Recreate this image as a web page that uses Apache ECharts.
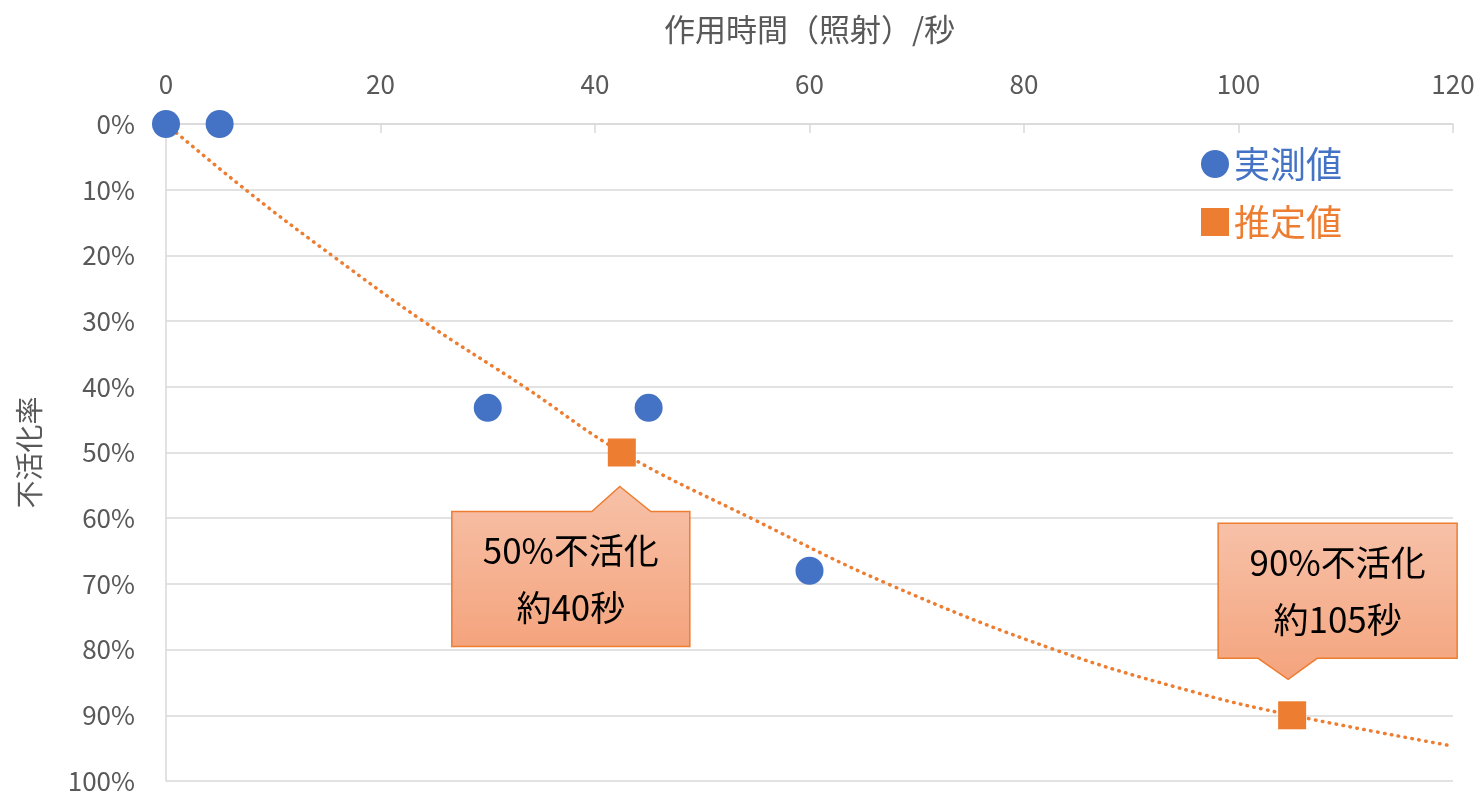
<!DOCTYPE html>
<html>
<head>
<meta charset="utf-8">
<script src="https://cdn.jsdelivr.net/npm/echarts@6/dist/echarts.min.js"></script>
<style>
  html, body { margin: 0; padding: 0; background: #fff; }
  #chart { width: 1481px; height: 792px; }
</style>
</head>
<body>
<div id="chart"></div>
<script>
'use strict';
const FONT = '"Noto Sans CJK JP", "Noto Sans", sans-serif';

// 実測値
const measuredTime = [0, 5, 30, 45, 60];
const measuredRate = [0, 0, 43.2, 43.2, 68];
// 推定値
const estTime = [42.5, 105];
const estRate = [50, 90];
// 近似曲線 (picture から読み取り)
const trendTime = [0, 7.8, 15.8, 23.8, 33.5, 42.5, 54.8, 67.3, 83, 96.4, 105, 120];
const trendRate = [0, 10.5, 20.4, 29.8, 40.1, 50, 60.2, 70, 80.1, 86.7, 90, 94.7];
// 吹き出し
const calloutText = ['50%不活化\n約40秒', '90%不活化\n約105秒'];

const zip = (a, b) => a.map((v, i) => [v, b[i]]);

let chart = echarts.init(document.getElementById('chart'));
chart.setOption({
  animation: false,
  textStyle: { fontFamily: FONT },
  grid: { left: 166, right: 28, top: 124, bottom: 11, outerBoundsMode: 'none', containLabel: false },
  legend: {
    orient: 'vertical',
    right: 134,
    top: 141,
    itemWidth: 28,
    itemHeight: 28,
    itemGap: 22,
    data: [
      { name: '実測値', icon: 'circle', textStyle: { color: '#4472c4' } },
      { name: '推定値', icon: 'rect', textStyle: { color: '#ed7d31' } }
    ],
    textStyle: { fontSize: 36, fontFamily: FONT }
  },
  xAxis: {
    type: 'value',
    position: 'top',
    min: 0,
    max: 120,
    interval: 20,
    name: '作用時間（照射）/秒',
    nameLocation: 'middle',
    nameGap: 79,
    nameTextStyle: { fontSize: 31, color: '#595959', fontFamily: FONT },
    axisLine: { show: true, lineStyle: { color: '#d9d9d9', width: 1.5 } },
    axisTick: { show: true, inside: true, length: 9, lineStyle: { color: '#d9d9d9', width: 1.5 } },
    axisLabel: { fontSize: 26, color: '#595959', margin: 27, fontFamily: FONT },
    splitLine: { show: false }
  },
  yAxis: {
    type: 'value',
    inverse: true,
    min: 0,
    max: 100,
    interval: 10,
    name: '不活化率',
    nameLocation: 'middle',
    nameGap: 123,
    nameTextStyle: { fontSize: 28, color: '#595959', fontFamily: FONT },
    axisLine: { show: true, lineStyle: { color: '#d9d9d9', width: 1.5 } },
    axisTick: { show: false },
    axisLabel: { fontSize: 26, color: '#595959', margin: 31, formatter: '{value}%', fontFamily: FONT },
    splitLine: { lineStyle: { color: '#d9d9d9', width: 1.5 } }
  },
  series: [
    {
      name: 'trend',
      type: 'line',
      data: zip(trendTime, trendRate),
      smooth: 0.4,
      showSymbol: false,
      silent: true,
      lineStyle: { color: '#ed7d31', width: 3.5, type: [0.5, 6.5], cap: 'round' },
      z: 1
    },
    {
      name: '実測値',
      type: 'scatter',
      data: zip(measuredTime, measuredRate),
      symbol: 'circle',
      symbolSize: 28,
      itemStyle: { color: '#4472c4', opacity: 1 },
      z: 3
    },
    {
      name: '推定値',
      type: 'scatter',
      data: zip(estTime, estRate),
      symbol: 'rect',
      symbolSize: 28,
      itemStyle: { color: '#ed7d31', opacity: 1 },
      z: 3
    }
  ]
});

// 吹き出しを推定値の位置から描く
function callout(idx, up) {
  let p = chart.convertToPixel({ seriesIndex: 2 }, [estTime[idx], estRate[idx]]);
  let x = p[0], y = p[1];
  let pts, cx, cy;
  if (up) {
    let t = y + 34, top = y + 59, bot = y + 194, l = x - 170, r = x + 68;
    pts = [[x - 2, t], [x + 29, top], [r, top], [r, bot], [l, bot], [l, top], [x - 30, top]];
    cx = (l + r) / 2; cy = (top + bot) / 2;
  } else {
    let t = y - 36, top = y - 192, bot = y - 57, l = x - 74, r = x + 165;
    pts = [[l, top], [r, top], [r, bot], [x + 25, bot], [x - 4, t], [x - 34, bot], [l, bot]];
    cx = (l + r) / 2; cy = (top + bot) / 2;
  }
  return {
    type: 'group',
    children: [
      {
        type: 'polygon',
        shape: { points: pts },
        style: {
          fill: new echarts.graphic.LinearGradient(0, 0, 0, 1, [
            { offset: 0, color: '#f7c1a8' },
            { offset: 1, color: '#f4a47d' }
          ]),
          stroke: '#ed7d31',
          lineWidth: 1.5
        },
        z: 10
      },
      {
        type: 'text',
        x: cx,
        y: cy,
        style: {
          text: calloutText[idx],
          fill: '#000',
          font: '35px ' + FONT,
          align: 'center',
          verticalAlign: 'middle',
          lineHeight: 57
        },
        z: 11
      }
    ]
  };
}

chart.setOption({ graphic: [callout(0, true), callout(1, false)] });
</script>
</body>
</html>
